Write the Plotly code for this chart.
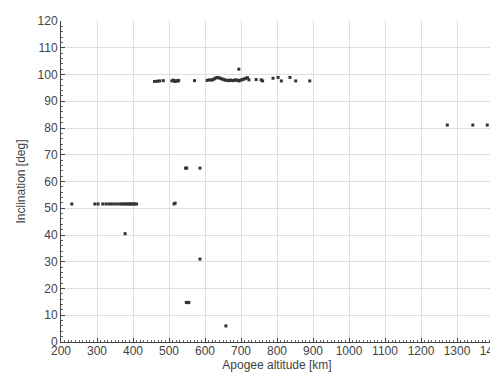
import plotly.graph_objects as go

# Apogee altitude [km] and inclination [deg] of each object
apogee_km = [
    230, 294, 303, 316, 325, 333, 340, 348, 356, 364, 370, 375, 380, 385, 389, 393, 397, 401, 405, 410, 514, 517,
    378, 586, 548, 552, 555, 658, 546, 549, 586, 694,
    460, 468, 474, 484, 508, 512, 516, 520, 524, 527, 571,
    606, 612, 618, 622, 626, 630, 634, 638, 642, 646, 650, 654, 658, 662, 666, 670, 674, 678,
    682, 686, 690, 694, 698, 702, 706, 710, 714, 718, 722,
    742, 756, 760, 789, 803, 812, 836, 852, 891,
    1273, 1344, 1384,
]
inclination_deg = [
    51.6, 51.6, 51.6, 51.6, 51.6, 51.6, 51.6, 51.6, 51.6, 51.6, 51.6, 51.6, 51.6, 51.6, 51.6, 51.6, 51.6, 51.6, 51.6, 51.6, 51.6, 51.9,
    40.5, 31.0, 14.8, 14.7, 14.8, 6.0, 65.0, 65.0, 65.0, 102.0,
    97.4, 97.5, 97.6, 97.7, 97.6, 97.9, 97.4, 97.7, 97.5, 97.8, 97.7,
    97.8, 98.0, 97.9, 98.1, 98.4, 98.7, 98.9, 98.8, 98.6, 98.4, 98.2, 98.0, 97.9, 97.8, 97.7, 97.9, 97.8, 97.7,
    97.9, 98.0, 97.8, 97.6, 97.9, 98.0, 98.2, 98.4, 98.6, 98.8, 98.0,
    98.1, 98.0, 97.6, 98.6, 98.9, 97.6, 98.9, 97.6, 97.6,
    81.1, 81.1, 81.1,
]

x_ticks = list(range(200, 1401, 100))
y_ticks = list(range(0, 121, 10))

fig = go.Figure(
    go.Scatter(
        x=apogee_km,
        y=inclination_deg,
        mode="markers",
        marker=dict(symbol="square", size=3, color="#333333", line=dict(width=0)),
        showlegend=False,
    )
)

font = "Liberation Sans, Arial, sans-serif"
axis_common = dict(
    automargin=False,
    showgrid=True,
    gridcolor="#dedede",
    gridwidth=1,
    zeroline=False,
    showline=True,
    linecolor="#444444",
    linewidth=1,
    ticks="inside",
    ticklen=4,
    tickcolor="#444444",
    ticklabeloverflow="allow",
    tickfont=dict(family=font, size=12, color="#444444"),
    title_font=dict(family=font, size=12, color="#444444"),
)

fig.update_xaxes(
    range=[200, 1400],
    tickvals=x_ticks,
    ticktext=[str(v) for v in x_ticks],
    title_text="Apogee altitude [km]",
    title_standoff=0,
    ticklabelstandoff=-2,
    minor=dict(ticks="inside", dtick=10, ticklen=2, tickcolor="#666666", showgrid=False),
    **axis_common,
)
fig.update_yaxes(
    range=[0, 120],
    tickvals=y_ticks,
    ticktext=[str(v) for v in y_ticks],
    title_text="Inclination [deg]",
    title_standoff=9,
    minor=dict(ticks="inside", dtick=2, ticklen=2, tickcolor="#666666", showgrid=False),
    **axis_common,
)

fig.update_layout(
    width=498,
    height=374,
    margin=dict(l=53, r=13, t=13, b=40),
    paper_bgcolor="white",
    plot_bgcolor="white",
)

fig.write_html("out.html")
